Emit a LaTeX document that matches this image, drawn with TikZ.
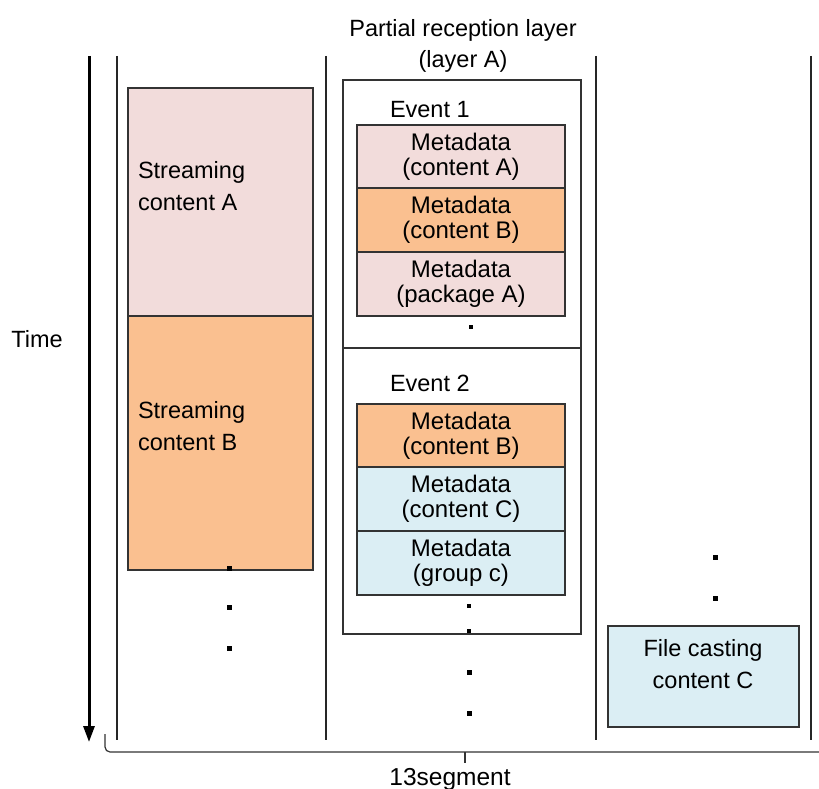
\documentclass[tikz,border=0pt]{standalone}
\usepackage{fontspec}
\setmainfont{Liberation Sans}
\usetikzlibrary{arrows.meta}
\definecolor{pinkfill}{HTML}{F2DCDB}
\definecolor{orangefill}{HTML}{FAC090}
\definecolor{bluefill}{HTML}{DBEEF4}
\definecolor{edge}{HTML}{333333}
\begin{document}
\begin{tikzpicture}[x=1pt,y=-1pt,
  every node/.style={inner sep=0pt,outer sep=0pt,font=\fontsize{23.5}{31.5}\selectfont},
  lane/.style={line width=1.4pt,draw=black!85},
  box/.style={draw=edge,line width=1.4pt,anchor=north west,align=center},
  meta/.style={box,minimum width=208pt,minimum height=64pt,font=\fontsize{24}{24.5}\selectfont},
  txt/.style={align=center},
  dot/.style={fill=black,minimum size=5pt,shape=rectangle}]
\useasboundingbox (0,0) rectangle (819,789);

% lane separators
\coordinate (l1t) at (117,56);  \coordinate (l1b) at (117,740);
\coordinate (l2t) at (326,56);  \coordinate (l2b) at (326,740);
\coordinate (l3t) at (596,56);  \coordinate (l3b) at (596,740);
\coordinate (l4t) at (811,56);  \coordinate (l4b) at (811,740);
\draw[lane] (l1t) -- (l1b);
\draw[lane] (l2t) -- (l2b);
\draw[lane] (l3t) -- (l3b);
\draw[lane] (l4t) -- (l4b);

% time axis
\coordinate (ttop) at (89,56);
\coordinate (tbot) at (89,742);
\draw[line width=3pt,-{Triangle[length=16pt,width=11pt]}] (ttop) -- (tbot);
\node (time) at (37,339) {Time};

% streaming contents
\node[box,fill=pinkfill,minimum width=185pt,minimum height=228pt] (sa) at (128,88) {};
\node[box,fill=orangefill,minimum width=185pt,minimum height=254pt] (sb) at (128,316) {};
\node[anchor=west,align=left] (sat) at (138,186) {Streaming\\content A};
\node[anchor=west,align=left] (sbt) at (138,426) {Streaming\\content B};
\node[dot] (d1) at (229,568) {};
\node[dot] (d2) at (229,607) {};
\node[dot] (d3) at (229,648) {};

% partial reception layer
\node[txt] (title) at (463,46) {Partial reception layer\\(layer A)};
\node[box,minimum width=238pt,minimum height=554pt] (layer) at (343,80) {};
\coordinate (divl) at (343,348);
\coordinate (divr) at (581,348);
\draw[draw=edge,line width=1.4pt] (divl) -- (divr);

\node[anchor=west] (ev1) at (390,110) {Event 1};
\node[meta,fill=pinkfill] (m1) at (357,125) {Metadata\\(content A)};
\node[meta,fill=orangefill] (m2) at (357,188) {Metadata\\(content B)};
\node[meta,fill=pinkfill] (m3) at (357,252) {Metadata\\(package A)};
\node[dot,minimum size=3.5pt] (d4) at (471,327) {};

\node[anchor=west] (ev2) at (390,383) {Event 2};
\node[meta,fill=orangefill] (m4) at (357,404) {Metadata\\(content B)};
\node[meta,fill=bluefill] (m5) at (357,467) {Metadata\\(content C)};
\node[meta,fill=bluefill] (m6) at (357,531) {Metadata\\(group c)};
\node[dot,minimum size=3.5pt] (d5) at (469,606) {};
\node[dot,minimum size=3.5pt] (d6) at (469,631) {};
\node[dot] (d7) at (469,672) {};
\node[dot] (d8) at (469,713) {};

% file casting
\node[dot] (d9) at (715,557) {};
\node[dot] (d10) at (715,598) {};
\node[box,fill=bluefill,minimum width=191pt,minimum height=101pt] (fc) at (608,626) {};
\node[txt] (fct) at (703,664) {File casting\\content C};

% segment brace
\coordinate (bl) at (105,734);
\coordinate (br) at (819,752);
\coordinate (bm) at (465,752);
\coordinate (bt) at (465,763);
\draw[line width=1.2pt,draw=black!80,rounded corners=5pt] (bl) |- (br);
\draw[line width=1.2pt,draw=black!80] (bm) -- (bt);
\node[font=\fontsize{24.5}{30}\selectfont] (seg) at (450,779) {13segment};
\end{tikzpicture}
\end{document}
